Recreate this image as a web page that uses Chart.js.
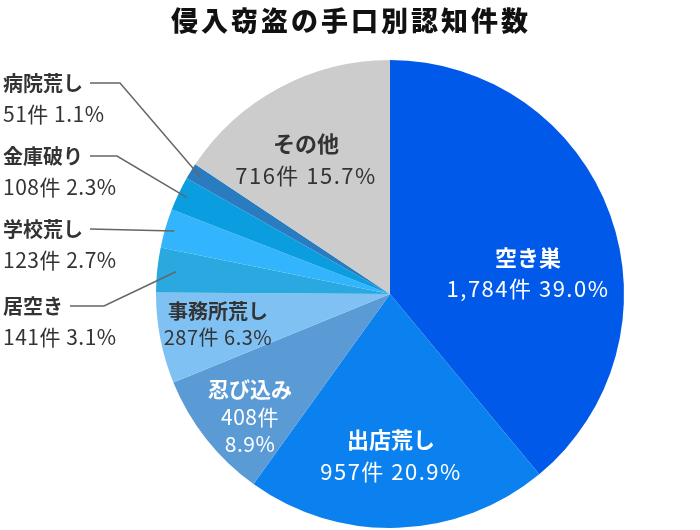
<!DOCTYPE html>
<html>
<head>
<meta charset="utf-8">
<script src="https://cdn.jsdelivr.net/npm/chart.js@4/dist/chart.umd.min.js"></script>
<style>
  html, body { margin: 0; padding: 0; background: #fff; }
  #wrap { width: 700px; height: 530px; position: relative; }
</style>
</head>
<body>
<div id="wrap"><canvas id="pieChart" width="700" height="530"></canvas></div>
<script>
// 侵入窃盗の手口別認知件数
const chartTitle = "侵入窃盗の手口別認知件数";
const categories = ["空き巣", "出店荒し", "忍び込み", "事務所荒し", "居空き", "学校荒し", "金庫破り", "病院荒し", "その他"];
const counts = [1784, 957, 408, 287, 141, 123, 108, 51, 716];
const percents = [39.0, 20.9, 8.9, 6.3, 3.1, 2.7, 2.3, 1.1, 15.7];
const colors = ["#0059e9", "#0b80ef", "#5b9bd5", "#80c1f3", "#2aa9e0", "#33b5fe", "#0a9de0", "#2a7cc1", "#cccccc"];

const FONT = "'Noto Sans CJK JP', 'Noto Sans', sans-serif";

// label placement (layout only)
const labelLayout = [
    { type: "in", x: 528, y: 258, color: "#fff", size: 22, vsize: 22, gap: 31, ls: 1.5 },
    { type: "in", x: 391, y: 440, color: "#fff", size: 22, vsize: 22, gap: 32, ls: 1.5 },
    { type: "in3", x: 250, y: 389, color: "#fff", size: 21, vsize: 21, gap: 28, ls: 0.5 },
    { type: "in", x: 218, y: 311, color: "#333", size: 20, vsize: 20, gap: 26, ls: 0.5 },
    { type: "out", y: 306, elbow: 104, r: 0.92 },
    { type: "out", y: 229, elbow: null, r: 0.96 },
    { type: "out", y: 156, elbow: 117, r: 0.96 },
    { type: "out", y: 83, elbow: 120, r: 0.95 },
    { type: "in", x: 306, y: 144, color: "#333", size: 22, vsize: 22, gap: 32, ls: 1.5 }
];

const labelPlugin = {
    id: "pieLabels",
    afterDatasetsDraw(chart) {
        const ctx = chart.ctx;
        const arcs = chart.getDatasetMeta(0).data;
        ctx.save();
        ctx.textBaseline = "middle";
        arcs.forEach((arc, i) => {
            const lay = labelLayout[i];
            const name = categories[i];
            const cnt = counts[i].toLocaleString() + "件";
            const pct = percents[i].toFixed(1) + "%";
            if (lay.type === "out") {
                ctx.textAlign = "left";
                ctx.fillStyle = "#333";
                ctx.letterSpacing = "0px";
                ctx.font = "bold 20px " + FONT;
                ctx.fillText(name, 3, lay.y);
                const w = ctx.measureText(name).width;
                ctx.font = "21px " + FONT;
                ctx.letterSpacing = "0.5px";
                ctx.fillText(cnt + " " + pct, 3, lay.y + 31);
                const mid = (arc.startAngle + arc.endAngle) / 2;
                const ex = arc.x + Math.cos(mid) * arc.outerRadius * lay.r;
                const ey = arc.y + Math.sin(mid) * arc.outerRadius * lay.r;
                ctx.strokeStyle = "#666";
                ctx.lineWidth = 1.5;
                ctx.beginPath();
                ctx.moveTo(3 + w + 7, lay.y);
                if (lay.elbow) ctx.lineTo(lay.elbow, lay.y);
                ctx.lineTo(ex, ey);
                ctx.stroke();
            } else {
                ctx.textAlign = "center";
                ctx.fillStyle = lay.color;
                ctx.letterSpacing = "0px";
                ctx.font = "bold " + lay.size + "px " + FONT;
                ctx.fillText(name, lay.x, lay.y);
                ctx.font = lay.vsize + "px " + FONT;
                ctx.letterSpacing = lay.ls + "px";
                if (lay.type === "in3") {
                    ctx.fillText(cnt, lay.x, lay.y + lay.gap);
                    ctx.fillText(pct, lay.x, lay.y + lay.gap * 2 - 1);
                } else {
                    ctx.fillText(cnt + " " + pct, lay.x, lay.y + lay.gap);
                }
            }
        });
        ctx.restore();
    }
};

const titlePlugin = {
    id: "topTitle",
    afterDraw(chart) {
        const ctx = chart.ctx;
        ctx.save();
        ctx.fillStyle = "#111";
        ctx.font = "900 27px " + FONT;
        ctx.letterSpacing = "3px";
        ctx.textAlign = "center";
        ctx.textBaseline = "middle";
        ctx.fillText(chartTitle, 351, 21);
        ctx.restore();
    }
};

new Chart(document.getElementById("pieChart"), {
    type: "pie",
    data: {
        labels: categories,
        datasets: [{
            data: counts,
            backgroundColor: colors,
            borderWidth: 0
        }]
    },
    options: {
        responsive: false,
        animation: false,
        layout: { padding: { left: 156, right: 76, top: 60, bottom: 2 } },
        plugins: {
            legend: { display: false },
            title: { display: false },
            tooltip: { enabled: false }
        }
    },
    plugins: [labelPlugin, titlePlugin]
});
</script>
</body>
</html>
